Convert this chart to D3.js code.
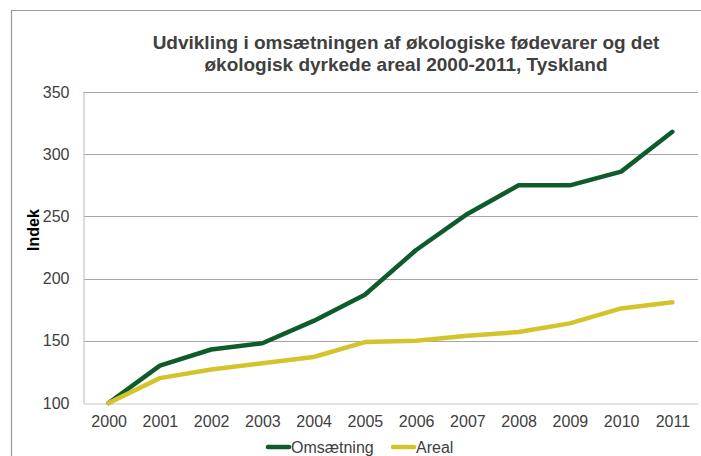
<!DOCTYPE html>
<meta charset="utf-8">
<script src="https://d3js.org/d3.v7.min.js"></script>
<style>
    body { margin: 0; background: #fff; }
    svg { font-family: "Liberation Sans", Arial, sans-serif; }
</style>
<div id="chart"></div>
<script>
    // data
    const years = ["2000","2001","2002","2003","2004","2005","2006","2007","2008","2009","2010","2011"];
    const omsaetning = [100, 130, 143, 148, 166, 187, 223, 252, 275, 275, 286, 318];
    const areal = [100, 120, 127, 132, 137, 149, 150, 154, 157, 164, 176, 181];
    const yTicks = [100, 150, 200, 250, 300, 350];
    const seriesNames = ["Omsætning", "Areal"];
    const seriesColors = ["#0e5c2c", "#d3c42c"];

    const W = 701, H = 456;
    const margin = {top: 92, right: 3, bottom: 53, left: 83};

    const svg = d3.select("#chart").append("svg")
        .attr("width", W)
        .attr("height", H);

    // outer frame (only top and left visible)
    svg.append("path")
        .attr("d", `M11.5,${H} V10.5 H${W}`)
        .attr("fill", "none")
        .attr("stroke", "#999")
        .attr("stroke-width", 1.2);

    const x = d3.scalePoint()
        .domain(years)
        .range([margin.left, W - margin.right])
        .padding(0.5);

    const y = d3.scaleLinear()
        .domain([100, 350])
        .range([H - margin.bottom, margin.top]);

    // gridlines
    svg.append("g")
        .selectAll("line")
        .data(yTicks.slice(1))
        .join("line")
        .attr("x1", margin.left)
        .attr("x2", W - margin.right)
        .attr("y1", d => Math.round(y(d)) + 0.5)
        .attr("y2", d => Math.round(y(d)) + 0.5)
        .attr("stroke", "#a6a6a6")
        .attr("stroke-width", 1);

    // axis lines
    const yAxis = svg.append("g")
        .attr("transform", `translate(${margin.left + 0.5},0)`)
        .call(d3.axisLeft(y).tickValues(yTicks).tickSize(0).tickPadding(14));
    yAxis.select(".domain").attr("stroke", "#d0d0d0").attr("stroke-width", 1.5);
    yAxis.selectAll("text")
        .style("font-size", "16px")
        .attr("fill", "#404040");

    const xAxis = svg.append("g")
        .attr("transform", `translate(0,${Math.round(y(100)) + 0.5})`)
        .call(d3.axisBottom(x).tickSize(0).tickPadding(12));
    xAxis.select(".domain").attr("stroke", "#d9d9d9").attr("stroke-width", 1.5);
    xAxis.selectAll("text")
        .style("font-size", "16px")
        .attr("fill", "#404040");

    // lines
    const line = d3.line()
        .x((d, i) => x(years[i]))
        .y(d => y(d));

    [omsaetning, areal].forEach((vals, k) => {
        svg.append("path")
            .datum(vals)
            .attr("d", line)
            .attr("fill", "none")
            .attr("stroke", seriesColors[k])
            .attr("stroke-width", 4.5)
            .attr("stroke-linejoin", "round")
            .attr("stroke-linecap", "round");
    });

    // title
    const title = svg.append("text")
        .attr("text-anchor", "middle")
        .attr("fill", "#404040")
        .style("font-size", "19px")
        .style("font-weight", "bold");
    title.append("tspan").attr("x", 406).attr("y", 49)
        .text("Udvikling i omsætningen af økologiske fødevarer og det");
    title.append("tspan").attr("x", 406).attr("y", 71)
        .text("økologisk dyrkede areal 2000-2011, Tyskland");

    // y label
    svg.append("text")
        .attr("transform", "translate(39,230) rotate(-90)")
        .attr("text-anchor", "middle")
        .attr("fill", "#000")
        .style("font-size", "16px")
        .style("font-weight", "bold")
        .text("Indek");

    // legend
    const legendX = [268, 393];
    const legend = svg.append("g")
        .selectAll("g")
        .data(seriesNames)
        .join("g")
        .attr("transform", (d, i) => `translate(${legendX[i]},447)`);
    legend.append("line")
        .attr("x1", 0).attr("x2", 21)
        .attr("stroke", (d, i) => seriesColors[i])
        .attr("stroke-width", 4.5)
        .attr("stroke-linecap", "round");
    legend.append("text")
        .attr("x", 23)
        .attr("y", 6)
        .attr("fill", "#404040")
        .style("font-size", "16px")
        .text(d => d);
</script>
